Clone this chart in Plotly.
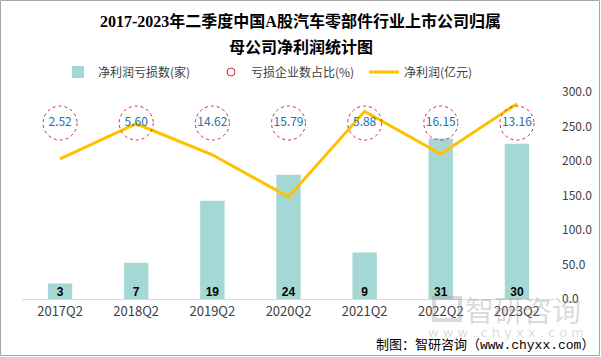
import plotly.graph_objects as go

categories = ["2017Q2", "2018Q2", "2019Q2", "2020Q2", "2021Q2", "2022Q2", "2023Q2"]
loss_counts = [3, 7, 19, 24, 9, 31, 30]
loss_ratio = [2.52, 5.60, 14.62, 15.79, 5.88, 16.15, 13.16]
net_profit = [203, 254, 209, 148, 272, 210, 283]
right_ticks = [0, 50, 100, 150, 200, 250, 300]

W, H = 601, 357
ML, MR, MT, MB = 22, 46, 92, 58
PW, PH = W - ML - MR, H - MT - MB
RATIO_LEVEL = 255  # height (right-axis units) of the ratio bubbles row

FONT = "Noto Sans CJK SC"
BAR_COLOR = "#A5D8D5"
LINE_COLOR = "#FFC000"
RED = "#D9262E"
BLUE = "#2370B3"
WM = "rgba(150,150,150,0.35)"

fig = go.Figure()

fig.add_trace(go.Bar(
    x=categories, y=loss_counts, name="净利润亏损数(家)",
    marker=dict(color=BAR_COLOR, line=dict(width=0)),
    width=0.32, hoverinfo="x+y",
))

# bar value labels sitting at the bar base
fig.add_trace(go.Scatter(
    x=categories, y=[0] * len(categories), mode="text",
    text=[str(v) for v in loss_counts], textposition="top center",
    textfont=dict(family="Liberation Sans", size=12, color="#000000", weight="bold"),
    showlegend=False, hoverinfo="skip", cliponaxis=False,
))

fig.add_trace(go.Scatter(
    x=[categories[0]], y=[None], name="亏损企业数占比(%)", yaxis="y2",
    mode="markers",
    marker=dict(symbol="circle-open", size=8, color=RED, line=dict(width=1, color=RED)),
))

fig.add_trace(go.Scatter(
    x=categories, y=net_profit, name="净利润(亿元)", yaxis="y2",
    mode="lines", line=dict(color=LINE_COLOR, width=3),
))

fig.add_trace(go.Scatter(
    x=categories, y=[RATIO_LEVEL] * len(categories), yaxis="y2",
    mode="text", text=[f"{v:.2f}" for v in loss_ratio],
    textfont=dict(family=FONT, size=12, color=BLUE),
    showlegend=False, hoverinfo="skip",
))

shapes = []
for c in categories:
    shapes.append(dict(
        type="circle", xref="x", yref="y2",
        xsizemode="pixel", ysizemode="pixel",
        xanchor=c, yanchor=RATIO_LEVEL,
        x0=-17, x1=17, y0=-17, y1=17,
        line=dict(color=RED, width=1, dash="dot"),
        layer="above",
    ))


def px_x(x):
    return (x - ML) / PW


def px_y(y):
    return 1 - (y - MT) / PH


# outer border
shapes.append(dict(
    type="rect", xref="paper", yref="paper",
    x0=px_x(0.5), x1=px_x(W - 1.5), y0=px_y(H - 1.5), y1=px_y(0.5),
    line=dict(color="#A6A6A6", width=1), fillcolor="rgba(0,0,0,0)", layer="below",
))
# watermark logo mark
shapes.append(dict(
    type="rect", xref="paper", yref="paper",
    x0=px_x(434), x1=px_x(460), y0=px_y(320), y1=px_y(298),
    line=dict(color=WM, width=4), fillcolor="rgba(0,0,0,0)", layer="above",
))

title_font = dict(family="Liberation Serif, Noto Sans CJK SC", size=16, color="#000000", weight="bold")
annotations = [
    dict(text="2017-2023年二季度中国A股汽车零部件行业上市公司归属", xref="paper", yref="paper",
         x=px_x(W / 2), y=px_y(21), xanchor="center", yanchor="middle", showarrow=False,
         font=title_font),
    dict(text="母公司净利润统计图", xref="paper", yref="paper",
         x=px_x(W / 2), y=px_y(47), xanchor="center", yanchor="middle", showarrow=False,
         font=title_font),
    dict(text="智研咨询", xref="paper", yref="paper",
         x=px_x(523), y=px_y(309), xanchor="center", yanchor="middle", showarrow=False,
         font=dict(family=FONT, size=29, color=WM)),
    dict(text="w w w . c h y x x . c o m", xref="paper", yref="paper",
         x=px_x(506), y=px_y(332), xanchor="center", yanchor="middle", showarrow=False,
         font=dict(family="DejaVu Sans", size=13, color=WM)),
    dict(text="制图：智研咨询（www.chyxx.com）", xref="paper", yref="paper",
         x=px_x(596), xanchor="right", y=px_y(345), yanchor="middle", showarrow=False,
         font=dict(family="Liberation Mono, Noto Sans CJK SC", size=13, color="#000000")),
]

fig.update_layout(
    width=W, height=H,
    margin=dict(l=ML, r=MR, t=MT, b=MB, pad=0, autoexpand=False),
    paper_bgcolor="#FFFFFF", plot_bgcolor="#FFFFFF",
    showlegend=True,
    xaxis=dict(
        type="category", categoryorder="array", categoryarray=categories,
        showgrid=False, showline=True, linecolor="#D9D9D9", linewidth=1,
        ticks="", tickfont=dict(family=FONT, size=13, color="#404040"),
    ),
    yaxis=dict(range=[0, 40], visible=False, showgrid=False, zeroline=False),
    yaxis2=dict(
        overlaying="y", side="right", range=[0, 300],
        tickvals=right_ticks, tickformat=".1f",
        showgrid=False, zeroline=False, showline=False, ticks="",
        tickfont=dict(family=FONT, size=12, color="#404040"),
        ticklabelstandoff=6,
    ),
    legend=dict(xref="container", yref="container", x=58 / W, y=1 - 72 / H,
                xanchor="left", yanchor="middle", orientation="h",
                font=dict(family=FONT, size=12, color="#404040"),
                bgcolor="rgba(0,0,0,0)", entrywidth=108, traceorder="normal"),
    shapes=shapes,
    annotations=annotations,
    bargap=0.68,
)

fig.write_html("out.html", config={"displayModeBar": False},
               post_script="document.body.style.margin='0';")
